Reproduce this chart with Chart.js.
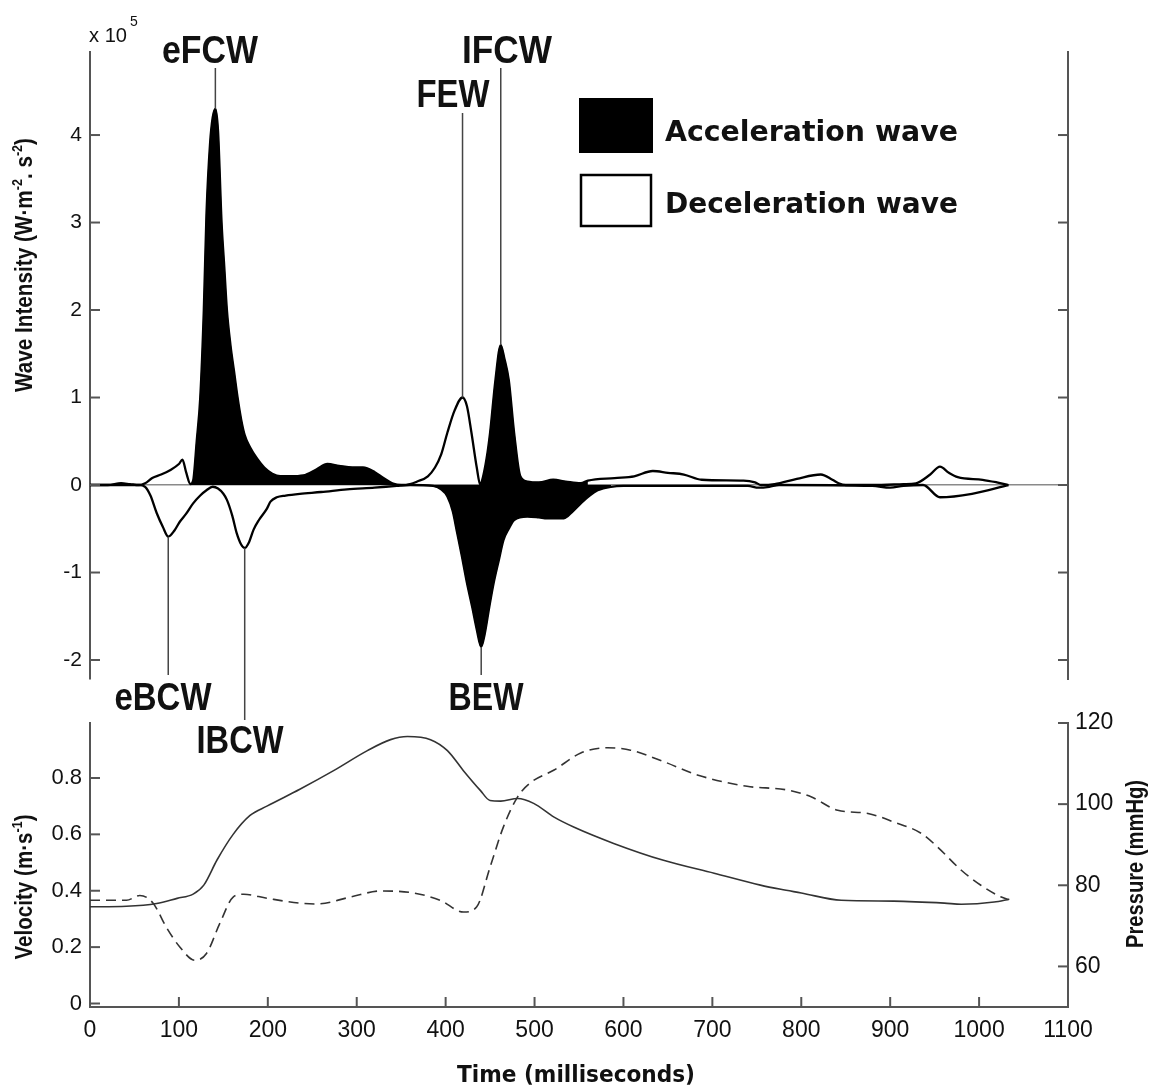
<!DOCTYPE html>
<html lang="en">
<head>
<meta charset="utf-8">
<title>Wave intensity, velocity and pressure</title>
<script src="https://cdn.jsdelivr.net/npm/chart.js@4.4.1/dist/chart.umd.min.js"></script>
<style>
  html, body { margin: 0; background: #fff; }
  .stage { position: relative; width: 1152px; height: 1088px; }
  .stage canvas { position: absolute; left: 0; top: 0; }
</style>
</head>
<body>
<div class="stage">
  <canvas id="waveChart" width="1152" height="1088"></canvas>
  <canvas id="flowChart" width="1152" height="1088"></canvas>
</div>
<script>
// Forward wave intensity (x10^5 W·m-2·s-2) against time (ms)
const forwardTime = [0, 20, 35, 45, 55, 62, 70, 80, 90, 100,
  104, 108, 113, 116, 120, 124, 128, 131, 135, 138,
  141, 144, 148, 151, 154, 158, 162, 166, 170, 174,
  180, 188, 196, 205, 214, 225, 240, 255, 267, 280,
  295, 307, 320, 330, 340, 350, 360, 368, 380, 388,
  395, 402, 410, 419, 424, 429, 435, 439, 441, 446,
  450, 456, 462, 466, 471, 477, 484, 492, 505, 521,
  535, 552, 560, 590, 612, 633, 650, 668, 688, 735,
  748, 755, 770, 795, 822, 835, 842, 850, 880, 915,
  929, 945, 956, 966, 976, 1004, 1020, 1033];
const forwardWave = [0, 0, 0.02, 0.01, 0, 0.02, 0.08, 0.12, 0.17, 0.24,
  0.29, 0.15, 0.01, 0.05, 0.5, 1.0, 2.0, 3.1, 3.9, 4.2,
  4.3, 4.05, 3.0, 2.5, 2.0, 1.6, 1.3, 1.0, 0.75, 0.57,
  0.43, 0.3, 0.2, 0.13, 0.1, 0.1, 0.11, 0.18, 0.24, 0.22,
  0.2, 0.2, 0.15, 0.08, 0.02, 0, 0.01, 0.04, 0.1, 0.2,
  0.35, 0.6, 0.85, 1.0, 0.9, 0.6, 0.2, 0, 0.05, 0.3,
  0.6, 1.2, 1.6, 1.45, 1.2, 0.6, 0.1, 0.04, 0.03, 0.06,
  0.04, 0.02, 0.05, 0.08, 0.1, 0.16, 0.14, 0.12, 0.06, 0.05,
  0.03, 0, 0.01, 0.07, 0.12, 0.06, 0.02, 0, 0, 0.01,
  0.02, 0.12, 0.21, 0.14, 0.09, 0.06, 0.03, 0];

// Backward wave intensity (x10^5 W·m-2·s-2)
const backwardTime = [0, 55, 62, 68, 75, 82, 88, 95, 101, 108,
  116, 124, 131, 138, 144, 150, 154, 160, 165, 170,
  174, 179, 184, 190, 199, 203, 210, 220, 236, 260,
  289, 320, 345, 360, 386, 395, 402, 408, 413, 418,
  424, 430, 435, 440, 444, 449, 454, 460, 465, 471,
  477, 492, 505, 514, 533, 543, 552, 562, 571, 586,
  600, 740, 752, 764, 775, 880, 900, 915, 937, 956,
  992, 1033];
const backwardWave = [0, 0, -0.02, -0.12, -0.32, -0.48, -0.59, -0.52, -0.42, -0.33,
  -0.21, -0.12, -0.06, -0.02, -0.04, -0.1, -0.17, -0.35, -0.55, -0.68,
  -0.72, -0.65, -0.51, -0.4, -0.27, -0.19, -0.14, -0.12, -0.1, -0.08,
  -0.05, -0.03, -0.01, 0, -0.01, -0.05, -0.13, -0.3, -0.55, -0.8,
  -1.12, -1.4, -1.65, -1.85, -1.7, -1.4, -1.12, -0.85, -0.63, -0.5,
  -0.4, -0.36, -0.37, -0.38, -0.38, -0.3, -0.21, -0.12, -0.06, -0.02,
  -0.01, -0.01, -0.03, -0.02, 0, -0.01, -0.03, -0.01, 0, -0.14,
  -0.1, 0];

// time spans (ms) where the wave accelerates the flow (filled black)
const forwardAccel = [[113, 356], [439, 560]];
const backwardAccel = [[386, 592]];

// named waves and the time of their peak
const waveLabels = ['eFCW', 'FEW', 'IFCW', 'eBCW', 'IBCW', 'BEW'];
const waveLabelTimes = [141, 419, 462, 88, 174, 440];

// Velocity (m/s) and pressure (mmHg)
const velocityTime = [0, 41, 75, 98, 116, 128, 143, 161, 180, 199,
  236, 274, 312, 338, 357, 383, 402, 420, 439, 450,
  462, 481, 499, 522, 544, 589, 645, 702, 754, 777,
  800, 845, 904, 961, 980, 1017, 1034];
const velocity = [0.343, 0.345, 0.355, 0.373, 0.388, 0.42, 0.51, 0.60, 0.667, 0.70,
  0.76, 0.826, 0.897, 0.936, 0.947, 0.936, 0.897, 0.826, 0.756, 0.72,
  0.718, 0.727, 0.71, 0.661, 0.626, 0.568, 0.508, 0.462, 0.42, 0.405,
  0.392, 0.366, 0.363, 0.356, 0.352, 0.36, 0.37];

const pressureTime = [0, 41, 56, 71, 86, 101, 118, 131, 146, 161,
  173, 199, 236, 255, 293, 327, 364, 394, 420, 435,
  450, 465, 481, 495, 522, 552, 582, 608, 645, 683,
  739, 784, 811, 841, 875, 904, 935, 953, 980, 1002,
  1025, 1033];
const pressure = [76.3, 76.3, 77.5, 75.6, 69.6, 64.8, 61.5, 63.2, 70.6, 77.1,
  77.8, 76.8, 75.6, 75.4, 77.1, 78.6, 78.1, 76.3, 73.4, 74.7,
  84.5, 94.4, 101.8, 105.2, 108.4, 112.6, 113.9, 113.3, 110.5, 107.2,
  104.4, 103.5, 101.8, 98.5, 97.7, 95.6, 92.8, 89.5, 83.7, 80,
  77.1, 76.5];

// tick values
const waveTicks = [-2, -1, 0, 1, 2, 3, 4];
const velocityTicks = [0, 0.2, 0.4, 0.6, 0.8];
const pressureTicks = [60, 80, 100, 120];
const timeTicks = [0, 100, 200, 300, 400, 500, 600, 700, 800, 900, 1000, 1100];

const NARROW = "'Liberation Sans Narrow', 'Liberation Sans', Arial, sans-serif";
const ARIAL = "'Liberation Sans', Arial, sans-serif";
const VERDANA = "'DejaVu Sans', Verdana, sans-serif";
const INK = '#111';
const AXIS = '#555';

const pts = (xs, ys) => xs.map((x, i) => ({ x, y: ys[i] }));
const forwardPts = pts(forwardTime, forwardWave);
const backwardPts = pts(backwardTime, backwardWave);

function within(points, spans) {
  return spans.map(([a, b]) => points.filter(p => p.x >= a && p.x <= b));
}

const curve = data => ({
  data, borderColor: '#000', borderWidth: 2.3, pointRadius: 0,
  fill: false, cubicInterpolationMode: 'monotone'
});
const accelFill = data => ({
  data, borderColor: '#000', borderWidth: 1, backgroundColor: '#000',
  pointRadius: 0, fill: 'origin', cubicInterpolationMode: 'monotone'
});

// text squeezed/stretched to a given width
function text(ctx, str, x, y, font, opts = {}) {
  ctx.save();
  ctx.font = font;
  ctx.fillStyle = opts.color || INK;
  ctx.textBaseline = 'alphabetic';
  ctx.translate(x, y);
  if (opts.rotate) ctx.rotate(opts.rotate);
  const w = ctx.measureText(str).width;
  ctx.scale(opts.width ? opts.width / w : 1, 1);
  const align = opts.align || 'left';
  ctx.fillText(str, align === 'center' ? -w / 2 : align === 'right' ? -w : 0, 0);
  ctx.restore();
}

// axis title with superscripts, centred on (x, y), reading upwards
function axisTitle(ctx, parts, x, y, size, width) {
  ctx.save();
  ctx.fillStyle = INK;
  ctx.translate(x, y);
  ctx.rotate(-Math.PI / 2);
  const fontFor = up => `bold ${up ? Math.round(size * 0.62) : size}px ${NARROW}`;
  const widths = parts.map(([s, up]) => { ctx.font = fontFor(up); return ctx.measureText(s).width; });
  const total = widths.reduce((a, b) => a + b, 0);
  ctx.scale(width / total, 1);
  let cx = -total / 2;
  parts.forEach(([s, up], i) => {
    ctx.font = fontFor(up);
    ctx.fillText(s, cx, up ? -size * 0.42 : 0);
    cx += widths[i];
  });
  ctx.restore();
}

// tick marks pointing into the plot
const inwardTicks = {
  id: 'inwardTicks',
  afterDraw(chart, args, opts) {
    const { ctx } = chart;
    ctx.save();
    ctx.strokeStyle = AXIS;
    ctx.lineWidth = 2;
    for (const id of opts.axes) {
      const scale = chart.scales[id];
      for (const t of scale.ticks) {
        const p = scale.getPixelForValue(t.value);
        ctx.beginPath();
        if (scale.position === 'left') { ctx.moveTo(scale.right, p); ctx.lineTo(scale.right + 10, p); }
        else if (scale.position === 'right') { ctx.moveTo(scale.left, p); ctx.lineTo(scale.left - 10, p); }
        else { ctx.moveTo(p, scale.top); ctx.lineTo(p, scale.top - 10); }
        ctx.stroke();
      }
    }
    ctx.restore();
  }
};

// wave names, leader lines, legend and axis title of the upper panel
const noteLayout = [
  { cx: 210, base: 63, w: 96, end: 68 },
  { cx: 453, base: 107, w: 73, end: 113 },
  { cx: 507, base: 63, w: 90, end: 68 },
  { cx: 163, base: 710, w: 97, end: 675 },
  { cx: 240, base: 753, w: 87, end: 720 },
  { cx: 486, base: 710, w: 75, end: 675 }
];

const waveNotes = {
  id: 'waveNotes',
  afterDraw(chart) {
    const { ctx, scales: { x, y } } = chart;
    waveLabels.forEach((name, i) => {
      const t = waveLabelTimes[i];
      const [times, values] = i < 3 ? [forwardTime, forwardWave] : [backwardTime, backwardWave];
      const v = values[times.indexOf(t)];
      const lay = noteLayout[i];
      const px = x.getPixelForValue(t);
      ctx.save();
      ctx.strokeStyle = '#444';
      ctx.lineWidth = 1.5;
      ctx.beginPath();
      ctx.moveTo(px, y.getPixelForValue(v));
      ctx.lineTo(px, lay.end);
      ctx.stroke();
      ctx.restore();
      text(ctx, name, lay.cx, lay.base, `bold 39px ${ARIAL}`, { align: 'center', width: lay.w });
    });

    // x 10^5 multiplier
    text(ctx, 'x 10', 89, 42, `20px ${NARROW}`, { width: 38 });
    text(ctx, '5', 130, 26, `14px ${NARROW}`);

    // legend
    ctx.save();
    ctx.fillStyle = '#000';
    ctx.fillRect(579, 98, 74, 55);
    ctx.strokeStyle = '#000';
    ctx.lineWidth = 2.5;
    ctx.strokeRect(581, 175, 70, 51);
    ctx.restore();
    text(ctx, 'Acceleration wave', 665, 141, `bold 28px ${VERDANA}`, { width: 293 });
    text(ctx, 'Deceleration wave', 665, 213, `bold 28px ${VERDANA}`, { width: 293 });

    axisTitle(ctx, [['Wave Intensity (W·m', false], ['-2', true], ['. s', false], ['-2', true], [')', false]], 32, 265, 23, 254);
  }
};

const flowNotes = {
  id: 'flowNotes',
  afterDraw(chart) {
    const { ctx } = chart;
    axisTitle(ctx, [['Velocity (m·s', false], ['-1', true], [')', false]], 32, 887, 23, 145);
    axisTitle(ctx, [['Pressure (mmHg)', false]], 1143, 864, 23, 168);
    text(ctx, 'Time (milliseconds)', 576, 1082, `bold 23px ${VERDANA}`, { align: 'center', width: 238 });
  }
};

const tickFont = size => ({ family: NARROW, size });
const fixedTicks = list => scale => { scale.ticks = list.map(value => ({ value })); };

// Upper panel: wave intensity
new Chart(document.getElementById('waveChart'), {
  type: 'line',
  data: {
    datasets: [
      curve(forwardPts),
      curve(backwardPts),
      ...within(forwardPts, forwardAccel).map(accelFill),
      ...within(backwardPts, backwardAccel).map(accelFill)
    ]
  },
  options: {
    responsive: false,
    animation: false,
    events: [],
    layout: { padding: { top: 52, bottom: 409, left: 0, right: 0 } },
    plugins: {
      legend: { display: false },
      tooltip: { enabled: false },
      inwardTicks: { axes: ['y', 'yR'] }
    },
    scales: {
      x: { type: 'linear', min: 0, max: 1100, display: false },
      y: {
        min: -2.217, max: 4.949,
        afterFit: s => { s.width = 90; },
        afterBuildTicks: fixedTicks(waveTicks),
        ticks: { font: tickFont(21), color: INK, padding: 8, callback: v => String(v) },
        grid: {
          drawTicks: false,
          lineWidth: 1.5,
          color: c => (c.tick && c.tick.value === 0 ? '#8a8a8a' : 'rgba(0,0,0,0)')
        },
        border: { color: AXIS, width: 2 }
      },
      yR: {
        position: 'right',
        min: -2.217, max: 4.949,
        afterFit: s => { s.width = 84; },
        afterBuildTicks: fixedTicks(waveTicks),
        ticks: { display: false },
        grid: { drawOnChartArea: false, drawTicks: false },
        border: { color: AXIS, width: 2 }
      }
    }
  },
  plugins: [inwardTicks, waveNotes]
});

// Lower panel: velocity (solid) and pressure (dashed)
new Chart(document.getElementById('flowChart'), {
  type: 'line',
  data: {
    datasets: [
      {
        label: 'Velocity',
        data: pts(velocityTime, velocity),
        yAxisID: 'yV',
        borderColor: '#333', borderWidth: 1.6, pointRadius: 0,
        cubicInterpolationMode: 'monotone'
      },
      {
        label: 'Pressure',
        data: pts(pressureTime, pressure),
        yAxisID: 'yP',
        borderColor: '#333', borderWidth: 1.6, borderDash: [10, 6], pointRadius: 0,
        cubicInterpolationMode: 'monotone'
      }
    ]
  },
  options: {
    responsive: false,
    animation: false,
    events: [],
    layout: { padding: { top: 723, bottom: 0, left: 0, right: 0 } },
    plugins: {
      legend: { display: false },
      tooltip: { enabled: false },
      inwardTicks: { axes: ['x', 'yV', 'yP'] }
    },
    scales: {
      x: {
        type: 'linear', min: 0, max: 1100,
        afterFit: s => { s.height = 81; },
        afterBuildTicks: fixedTicks(timeTicks),
        ticks: { font: tickFont(23), color: INK, padding: 10, autoSkip: false, maxRotation: 0, callback: v => String(v) },
        grid: { drawOnChartArea: false, drawTicks: false },
        border: { color: AXIS, width: 2 }
      },
      yV: {
        position: 'left',
        min: -0.0124, max: 0.995,
        afterFit: s => { s.width = 90; },
        afterBuildTicks: fixedTicks(velocityTicks),
        ticks: { font: tickFont(22), color: INK, padding: 8, callback: v => String(v) },
        grid: { drawOnChartArea: false, drawTicks: false },
        border: { color: AXIS, width: 2 }
      },
      yP: {
        position: 'right',
        min: 50, max: 120,
        afterFit: s => { s.width = 84; },
        afterBuildTicks: fixedTicks(pressureTicks),
        ticks: { font: tickFont(23), color: INK, padding: 7, callback: v => String(v) },
        grid: { drawOnChartArea: false, drawTicks: false },
        border: { color: AXIS, width: 2 }
      }
    }
  },
  plugins: [inwardTicks, flowNotes]
});
</script>
</body>
</html>
